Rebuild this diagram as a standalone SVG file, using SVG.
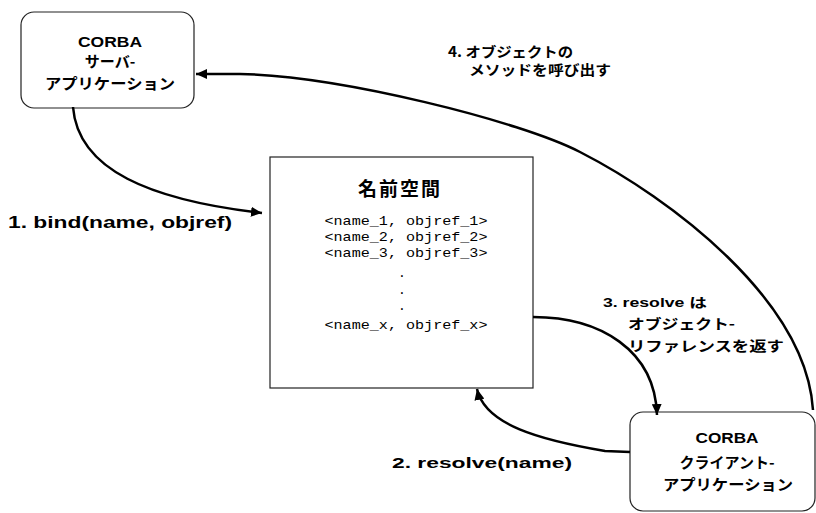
<svg xmlns="http://www.w3.org/2000/svg" width="816" height="513" viewBox="0 0 816 513">
<defs>
<style>
.box{fill:#fff;stroke:#222;stroke-width:1.2}
.lbl{font-family:"Liberation Sans","Noto Sans CJK JP",sans-serif;font-weight:bold;fill:#000}
.jp{font-family:"Noto Sans CJK JP","Liberation Sans",sans-serif;fill:#000}
.mono{font-family:"Liberation Mono",monospace;font-size:13px;fill:#000}
.conn{fill:none;stroke:#000;stroke-width:2.5}
</style>
<marker id="arr" markerUnits="userSpaceOnUse" markerWidth="12" markerHeight="10" refX="11" refY="5" orient="auto">
<path d="M0,0 L11,5 L0,10 Z" fill="#000"/>
</marker>
</defs>
<rect width="816" height="513" fill="#fff"/>
<g id="server">
<rect class="box" x="21" y="12" width="173" height="96" rx="13"/>
<text class="lbl" x="110" y="47" font-size="15" text-anchor="middle" textLength="64" lengthAdjust="spacingAndGlyphs">CORBA</text>
<text class="jp" x="110" y="67" font-size="15" font-weight="bold" text-anchor="middle">サーバ-</text>
<text class="jp" x="110" y="89" font-size="15" font-weight="bold" text-anchor="middle" textLength="130" lengthAdjust="spacingAndGlyphs">アプリケーション</text>
</g>
<g id="namespace">
<rect class="box" x="270" y="157" width="263" height="231" stroke-width="1.5"/>
<text class="jp" x="400" y="196" font-size="19" font-weight="bold" text-anchor="middle" letter-spacing="2">名前空間</text>
<text class="mono" x="406" y="225" text-anchor="middle" textLength="163" lengthAdjust="spacingAndGlyphs">&lt;name_1, objref_1&gt;</text>
<text class="mono" x="406" y="241" text-anchor="middle" textLength="163" lengthAdjust="spacingAndGlyphs">&lt;name_2, objref_2&gt;</text>
<text class="mono" x="406" y="257" text-anchor="middle" textLength="163" lengthAdjust="spacingAndGlyphs">&lt;name_3, objref_3&gt;</text>
<text class="mono" x="402" y="277" text-anchor="middle">.</text>
<text class="mono" x="402" y="294" text-anchor="middle">.</text>
<text class="mono" x="402" y="310" text-anchor="middle">.</text>
<text class="mono" x="406" y="329" text-anchor="middle" textLength="163" lengthAdjust="spacingAndGlyphs">&lt;name_x, objref_x&gt;</text>
</g>
<g id="client">
<rect class="box" x="630" y="412" width="185" height="99" rx="13"/>
<text class="lbl" x="727" y="443" font-size="15" text-anchor="middle" textLength="63" lengthAdjust="spacingAndGlyphs">CORBA</text>
<text class="jp" x="727" y="468" font-size="15" font-weight="bold" text-anchor="middle">クライアント-</text>
<text class="jp" x="728" y="490" font-size="15" font-weight="bold" text-anchor="middle" textLength="130" lengthAdjust="spacingAndGlyphs">アプリケーション</text>
</g>
<g id="connectors">
<path class="conn" marker-end="url(#arr)" d="M73 107 C78 170 150 200 262 213"/>
<path class="conn" marker-end="url(#arr)" d="M630 452 L605 451 C540 440 485 425 477 389"/>
<path class="conn" marker-end="url(#arr)" d="M533 317 C600 317 655 350 657 415"/>
<path class="conn" marker-end="url(#arr)" d="M813 410 C806 300 670 198 580 152 C520 121 340 76 240 74 L196 74"/>
</g>
<g id="labels">
<text class="lbl" x="8" y="228" font-size="16" textLength="224" lengthAdjust="spacingAndGlyphs">1. bind(name, objref)</text>
<text class="lbl" x="392" y="468" font-size="15" textLength="180" lengthAdjust="spacingAndGlyphs">2. resolve(name)</text>
<text class="lbl" x="603" y="307" font-size="13" textLength="104" lengthAdjust="spacingAndGlyphs">3. resolve は</text>
<text class="jp" x="628" y="329" font-size="14" font-weight="bold" textLength="107" lengthAdjust="spacingAndGlyphs">オブジェクト-</text>
<text class="jp" x="628" y="351" font-size="14" font-weight="bold" textLength="156" lengthAdjust="spacingAndGlyphs">リファレンスを返す</text>
<text class="jp" x="448" y="57" font-size="14" font-weight="bold" textLength="125" lengthAdjust="spacingAndGlyphs">4. オブジェクトの</text>
<text class="jp" x="469" y="75" font-size="14" font-weight="bold" textLength="142" lengthAdjust="spacingAndGlyphs">メソッドを呼び出す</text>
</g>
</svg>
